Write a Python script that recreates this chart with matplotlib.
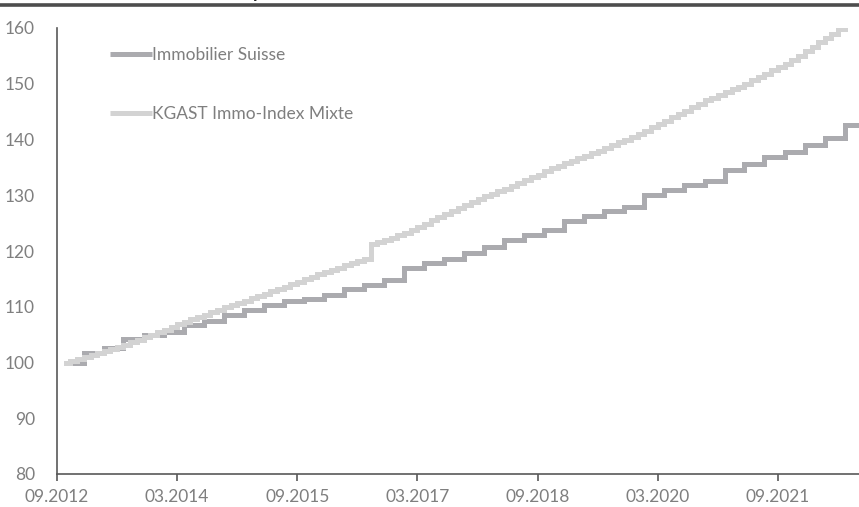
import matplotlib
matplotlib.use("Agg")
import matplotlib.pyplot as plt
import matplotlib.dates as mdates
from matplotlib.lines import Line2D
import pandas as pd

# KGAST Immo-Index Mixte, monthly values from 10.2012
kgast_values = [
    100.0, 100.3, 100.6, 101.0, 101.3, 101.7, 102.0, 102.4, 102.8, 103.2, 103.6, 104.0,
    104.5, 104.9, 105.4, 105.9, 106.4, 106.9, 107.3, 107.8, 108.2, 108.6, 109.0, 109.4,
    109.9, 110.3, 110.7, 111.1, 111.5, 111.9, 112.3, 112.8, 113.2, 113.6, 114.0, 114.5,
    115.0, 115.4, 115.8, 116.2, 116.6, 117.0, 117.4, 117.8, 118.2, 118.6, 121.2, 121.6,
    122.0, 122.4, 122.8, 123.3, 123.8, 124.3, 124.9, 125.5, 126.1, 126.6, 127.2, 127.8,
    128.3, 128.8, 129.3, 129.8, 130.3, 130.7, 131.2, 131.7, 132.2, 132.7, 133.2, 133.7,
    134.3, 134.8, 135.3, 135.7, 136.2, 136.6, 137.0, 137.5, 138.0, 138.5, 139.0, 139.5,
    140.0, 140.5, 141.0, 141.6, 142.2, 142.8, 143.4, 144.0, 144.6, 145.2, 145.8, 146.4,
    147.0, 147.5, 148.0, 148.5, 149.0, 149.5, 150.0, 150.6, 151.2, 151.8, 152.4, 153.0,
    153.6, 154.3, 155.0, 155.8, 156.6, 157.4, 158.2, 159.0, 159.8, 160.3,
]
kgast_dates = pd.date_range("2012-10-01", periods=len(kgast_values), freq="MS")

# Immobilier Suisse, quarterly values from 10.2012
immo_values = [
    100.0, 101.7, 102.6, 104.3, 105.0, 105.5, 106.8, 107.5, 108.5, 109.5,
    110.3, 111.0, 111.4, 112.1, 113.1, 113.9, 114.8, 116.9, 117.8, 118.6,
    119.6, 120.8, 121.9, 122.8, 123.7, 125.4, 126.2, 127.1, 127.9, 130.0,
    130.9, 131.8, 132.6, 134.5, 135.6, 136.9, 137.8, 139.0, 140.2, 142.6,
]
immo_dates = pd.date_range("2012-10-01", periods=len(immo_values), freq="3MS")
immo_end = pd.Timestamp("2022-12-01")

tick_dates = pd.date_range("2012-09-01", "2021-09-01", freq="18MS")
x_start = pd.Timestamp("2012-09-01")
x_end = pd.Timestamp("2022-09-05")

GRID = "#595959"
TEXT = "#7f7f7f"
plt.rcParams["font.family"] = ["Lato", "DejaVu Sans"]

fig = plt.figure(figsize=(8.59, 5.07), dpi=100)
ax = fig.add_axes([57 / 859, 1 - 474 / 507, 1 - 57 / 859, (474 - 28) / 507])

ax.step(list(immo_dates) + [immo_end], immo_values + [immo_values[-1]],
        where="post", color="#ababaf", lw=3.6, label="Immobilier Suisse",
        solid_capstyle="butt", solid_joinstyle="miter")
ax.step(kgast_dates, kgast_values, where="post", color="#d3d3d3", lw=3.6,
        label="KGAST Immo-Index Mixte", solid_capstyle="butt",
        solid_joinstyle="miter")

ax.set_xlim(x_start, x_end)
ax.set_ylim(80, 160)
ax.set_yticks(range(80, 161, 10))
ax.set_xticks(tick_dates)
ax.xaxis.set_major_formatter(mdates.DateFormatter("%m.%Y"))

for s in ["top", "right"]:
    ax.spines[s].set_visible(False)
for s in ["left", "bottom"]:
    ax.spines[s].set_color(GRID)
    ax.spines[s].set_linewidth(1.2)

ax.tick_params(axis="y", length=0, pad=16, labelsize=12.5, labelcolor=TEXT)
ax.tick_params(axis="x", length=5, width=1.2, color=GRID, pad=6,
               labelsize=12.5, labelcolor=TEXT)

leg = ax.legend(loc="upper left", bbox_to_anchor=(0.0574, 0.972), frameon=False,
                handlelength=2.4, handletextpad=0.0, labelspacing=2.45,
                fontsize=12.5, borderaxespad=0)
for t in leg.get_texts():
    t.set_color(TEXT)

# dark rule at the top and the clipped title above it
fig.add_artist(Line2D([0, 1], [1 - 5 / 507, 1 - 5 / 507], color="#4d4d4d", lw=2.6))
fig.text(253 / 859, 1 + 2 / 507, "p", fontweight="bold", fontsize=13,
         color="#262626", va="baseline", ha="left")

fig.savefig("out.png", dpi=100)
